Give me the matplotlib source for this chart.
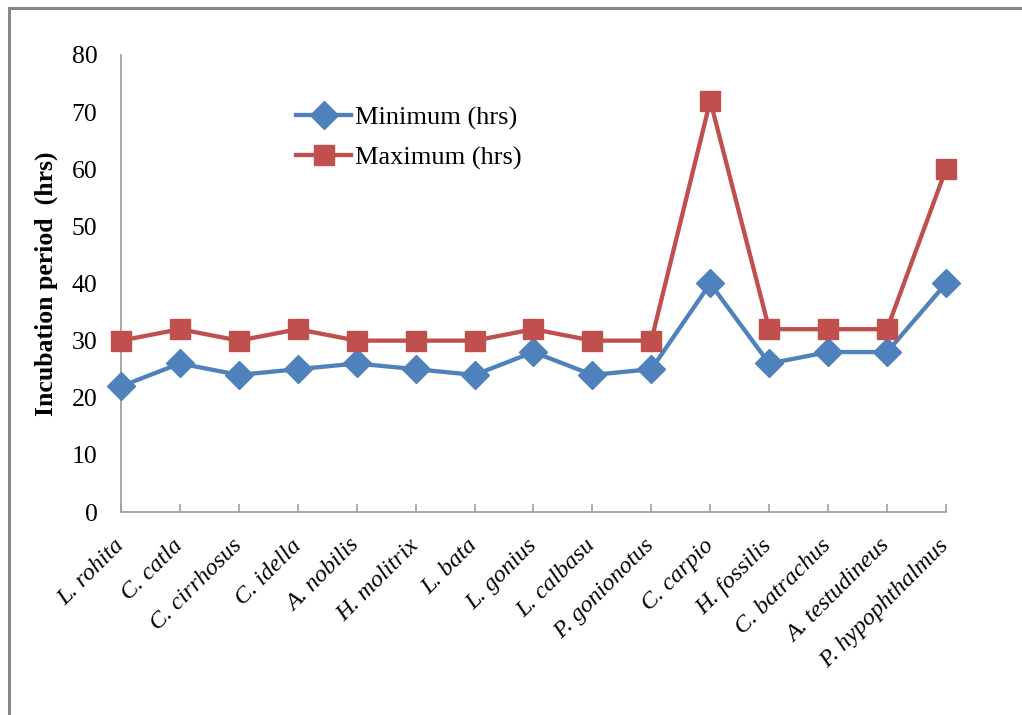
import matplotlib
matplotlib.use("Agg")
import matplotlib.pyplot as plt
from matplotlib.patches import Rectangle

species = ["L. rohita", "C. catla", "C. cirrhosus", "C. idella", "A. nobilis",
           "H. molitrix", "L. bata", "L. gonius", "L. calbasu", "P. gonionotus",
           "C. carpio", "H. fossilis", "C. batrachus", "A. testudineus",
           "P. hypophthalmus"]
minimum_hrs = [22, 26, 24, 25, 26, 25, 24, 28, 24, 25, 40, 26, 28, 28, 40]
maximum_hrs = [30, 32, 30, 32, 30, 30, 30, 32, 30, 30, 72, 32, 32, 32, 60]
y_ticks = [0, 10, 20, 30, 40, 50, 60, 70, 80]

plt.rcParams["font.family"] = ["Liberation Serif", "DejaVu Serif"]

fig = plt.figure(figsize=(10.22, 7.15), dpi=100)
ax = fig.add_axes([0.1184, 0.2839, 0.8072, 0.6392])

x = list(range(len(species)))
ax.plot(x, minimum_hrs, color="#4F81BD", lw=3.1, marker="D", markersize=14,
        label="Minimum (hrs)", solid_joinstyle="round", clip_on=False, zorder=3)
ax.plot(x, maximum_hrs, color="#C0504D", lw=3.1, marker="s", markersize=15,
        label="Maximum (hrs)", solid_joinstyle="round", clip_on=False, zorder=3)

ax.set_xlim(0, len(species) - 1)
ax.set_ylim(0, 80)
ax.set_yticks(y_ticks)
ax.set_yticklabels([str(v) for v in y_ticks], fontsize=18.5)
ax.set_xticks(x)
ax.set_xticklabels(species, rotation=45, ha="right", va="center",
                   rotation_mode="anchor", fontsize=17.5, fontstyle="italic")
ax.tick_params(axis="y", length=0, pad=17)
ax.tick_params(axis="x", direction="in", length=6, width=1.2, color="#A0A0A0", pad=22)

for side in ("top", "right"):
    ax.spines[side].set_visible(False)
for side in ("left", "bottom"):
    ax.spines[side].set_color("#A0A0A0")
    ax.spines[side].set_linewidth(1.3)

ax.set_ylabel("Incubation period  (hrs)", fontsize=18.5, fontweight="bold", labelpad=10)

leg = ax.legend(loc="upper left", bbox_to_anchor=(0.212, 0.889), frameon=False,
                fontsize=19, handlelength=2.1, handletextpad=0.15, labelspacing=0.62,
                borderaxespad=0, borderpad=0)

fig.patches.append(Rectangle((9 / 1022, -0.05), 1.1, 1 - 8 / 715 + 0.05,
                             transform=fig.transFigure, fill=False,
                             edgecolor="#868686", linewidth=2.2))

fig.savefig("out.png", dpi=100)
